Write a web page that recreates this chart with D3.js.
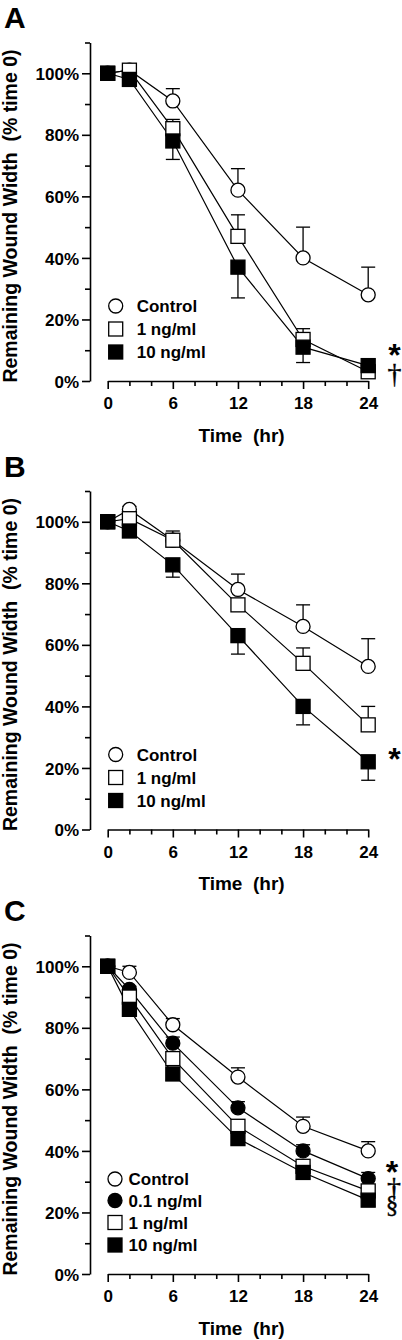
<!DOCTYPE html>
<html>
<head>
<meta charset="utf-8">
<script src="https://cdn.jsdelivr.net/npm/d3@7"></script>
<style>
  html, body { margin: 0; padding: 0; background: #fff; }
  svg { display: block; }
  text { font-family: "Liberation Sans", Arial, Helvetica, sans-serif; font-weight: bold; fill: #000; }
</style>
</head>
<body>
<svg id="chart" width="402" height="1340"></svg>
<script>
// ---------------- DATA ----------------
const times = [0, 2, 6, 12, 18, 24];
const xMajorTicks = [0, 6, 12, 18, 24];
const xMinorTicks = [2, 4, 8, 10, 14, 16, 20, 22];
const yMajorTicks = [0, 20, 40, 60, 80, 100];
const yMinorTicks = [10, 30, 50, 70, 90, 110];
const panelLabels = ["A", "B", "C"];
const seriesNamesAB = ["Control", "1 ng/ml", "10 ng/ml"];
const seriesNamesC = ["Control", "0.1 ng/ml", "1 ng/ml", "10 ng/ml"];

// Panel A
const aControl = [100, 101, 91, 62, 40, 28];
const aControlErr = [0, 0, 4, 7, 10, 9];
const a1ng = [100, 101, 82, 47, 13.5, 3];
const a1ngErr = [0, 0, 3, 7, 3.5, 1];
const a10ng = [100, 98, 78, 37, 11, 5];
const a10ngErr = [0, 0, 6, 10, 5, 1];

// Panel B
const bControl = [100, 104, 94, 78, 66, 53];
const bControlErr = [0, 1, 3, 5, 7, 9];
const b1ng = [100, 101, 94, 73, 54, 34];
const b1ngErr = [0, 0, 1, 2, 5, 6];
const b10ng = [100, 97, 86, 63, 40, 22];
const b10ngErr = [0, 0, 4, 6, 6, 6];

// Panel C
const cControl = [100, 98, 81, 64, 48, 40];
const cControlErr = [0, 2, 2, 3, 3, 3];
const c01ng = [100, 92.5, 75, 54, 40, 31];
const c01ngErr = [0, 1, 2, 2, 2, 2];
const c1ng = [100, 90, 70, 48, 35, 27];
const c1ngErr = [0, 1, 1, 1, 1, 1];
const c10ng = [100, 86, 65, 44, 33, 24];
const c10ngErr = [0, 1, 2, 2, 2, 2];

const significanceA = ["*", "†"];
const significanceB = ["*"];
const significanceC = ["*", "†", "§"];

// ---------------- PANEL DEFINITIONS ----------------
const panels = [
  {
    label: panelLabels[0], oy: 0,
    series: [
      { name: seriesNamesAB[0], v: aControl, e: aControlErr, dir: 1, shape: "circle", fill: "#fff" },
      { name: seriesNamesAB[1], v: a1ng, e: a1ngErr, dir: 1, shape: "square", fill: "#fff" },
      { name: seriesNamesAB[2], v: a10ng, e: a10ngErr, dir: -1, shape: "square", fill: "#000" }
    ],
    legendX: 115.7, legendTextX: 136.7, legendY: [306, 329, 352],
    sig: significanceA, sigPos: [[394.5, 366, 32, "sans"], [394.5, 383, 28, "serif"]]
  },
  {
    label: panelLabels[1], oy: 448.5,
    series: [
      { name: seriesNamesAB[0], v: bControl, e: bControlErr, dir: 1, shape: "circle", fill: "#fff" },
      { name: seriesNamesAB[1], v: b1ng, e: b1ngErr, dir: 1, shape: "square", fill: "#fff" },
      { name: seriesNamesAB[2], v: b10ng, e: b10ngErr, dir: -1, shape: "square", fill: "#000" }
    ],
    legendX: 115.7, legendTextX: 136.7, legendY: [306, 329, 352],
    sig: significanceB, sigPos: [[394.5, 321, 32, "sans"]]
  },
  {
    label: panelLabels[2], oy: 893,
    series: [
      { name: seriesNamesC[0], v: cControl, e: cControlErr, dir: 1, shape: "circle", fill: "#fff" },
      { name: seriesNamesC[1], v: c01ng, e: c01ngErr, dir: 1, shape: "circle", fill: "#000" },
      { name: seriesNamesC[2], v: c1ng, e: c1ngErr, dir: 1, shape: "square", fill: "#fff" },
      { name: seriesNamesC[3], v: c10ng, e: c10ngErr, dir: -1, shape: "square", fill: "#000" }
    ],
    legendX: 115, legendTextX: 128.5, legendY: [286, 307.5, 329.5, 352],
    sig: significanceC, sigPos: [[392, 290, 32, "sans"], [394, 303.5, 28, "serif"], [392, 319.5, 25, "serif"]]
  }
];

// ---------------- DRAW ----------------
const svg = d3.select("#chart");
const x = d3.scaleLinear().domain([0, 24]).range([107.7, 368.2]);
const axisX = 90;
const R = 7;     // circle radius
const S = 14;    // square side
const CAP = 7;   // error cap half width

function drawMarker(g, shape, fill, cx, cy) {
  if (shape === "circle") {
    g.append("circle").attr("cx", cx).attr("cy", cy).attr("r", R)
      .attr("fill", fill).attr("stroke", "#000").attr("stroke-width", 1.3);
  } else {
    g.append("rect").attr("x", cx - S / 2).attr("y", cy - S / 2)
      .attr("width", S).attr("height", S)
      .attr("fill", fill).attr("stroke", "#000").attr("stroke-width", 1.3);
  }
}

panels.forEach(p => {
  const g = svg.append("g").attr("transform", `translate(0,${p.oy})`);
  const y = d3.scaleLinear().domain([0, 110]).range([381, 42.5]);

  // panel letter
  g.append("text").attr("x", 4).attr("y", 28).style("font-size", "30px").text(p.label);

  // Y axis major
  const yAx = g.append("g").attr("transform", `translate(${axisX},0)`)
    .call(d3.axisLeft(y).tickValues(yMajorTicks).tickSize(8).tickSizeOuter(0)
      .tickFormat(d => d + "%").tickPadding(3));
  yAx.select(".domain").attr("stroke-width", 1.6);
  yAx.selectAll(".tick line").attr("stroke-width", 1.6);
  yAx.selectAll(".tick text").style("font-size", "17px").style("font-family", "Liberation Sans, Arial, sans-serif").style("font-weight", "bold").attr("dy", "0.36em");
  // Y axis minor
  const yMin = g.append("g").attr("transform", `translate(${axisX},0)`)
    .call(d3.axisLeft(y).tickValues(yMinorTicks).tickSize(5).tickSizeOuter(0).tickFormat(""));
  yMin.select(".domain").remove();
  yMin.selectAll(".tick line").attr("stroke-width", 1.6);

  // X axis major
  const xAx = g.append("g").attr("transform", `translate(0,${y(0)})`)
    .call(d3.axisBottom(x).tickValues(xMajorTicks).tickSize(8).tickSizeOuter(0).tickPadding(8));
  xAx.select(".domain").attr("stroke-width", 1.6);
  xAx.selectAll(".tick line").attr("stroke-width", 1.6);
  xAx.selectAll(".tick text").style("font-size", "17px").style("font-family", "Liberation Sans, Arial, sans-serif").style("font-weight", "bold");
  const xMin = g.append("g").attr("transform", `translate(0,${y(0)})`)
    .call(d3.axisBottom(x).tickValues(xMinorTicks).tickSize(5).tickSizeOuter(0).tickFormat(""));
  xMin.select(".domain").remove();
  xMin.selectAll(".tick line").attr("stroke-width", 1.6);

  // axis titles
  g.append("text").attr("x", 241.5).attr("y", 441.5).attr("text-anchor", "middle")
    .style("font-size", "19px").attr("xml:space", "preserve").text("Time  (hr)");
  g.append("text").attr("transform", `translate(17,216) rotate(-90)`).attr("text-anchor", "middle")
    .style("font-size", "19.5px").attr("xml:space", "preserve").text("Remaining Wound Width  (% time 0)");

  // lines
  const line = d3.line().x((d, i) => x(times[i])).y(d => y(d));
  p.series.forEach(s => {
    g.append("path").attr("d", line(s.v)).attr("fill", "none")
      .attr("stroke", "#000").attr("stroke-width", 1.2);
  });
  // error bars + markers, in series order
  p.series.forEach(s => {
    const sg = g.append("g");
    s.v.forEach((v, i) => {
      const e = s.e[i];
      if (e > 0) {
        const yEnd = y(v + s.dir * e);
        sg.append("line").attr("x1", x(times[i])).attr("x2", x(times[i]))
          .attr("y1", y(v)).attr("y2", yEnd).attr("stroke", "#000").attr("stroke-width", 1.3);
        sg.append("line").attr("x1", x(times[i]) - CAP).attr("x2", x(times[i]) + CAP)
          .attr("y1", yEnd).attr("y2", yEnd).attr("stroke", "#000").attr("stroke-width", 1.3);
      }
    });
    s.v.forEach((v, i) => drawMarker(sg, s.shape, s.fill, x(times[i]), y(v)));
  });

  // legend
  p.series.forEach((s, i) => {
    const ly = p.legendY[i];
    drawMarker(g, s.shape, s.fill, p.legendX, ly);
    g.append("text").attr("x", p.legendTextX).attr("y", ly).attr("dy", "0.36em")
      .style("font-size", "17px").text(s.name);
  });

  // significance marks
  p.sig.forEach((m, i) => {
    const [sx, sy, fs, fam] = p.sigPos[i];
    const t = g.append("text").attr("x", sx).attr("y", sy).attr("text-anchor", "middle")
      .style("font-size", fs + "px")
      .style("font-family", fam === "serif" ? "Liberation Serif, Times New Roman, serif" : "Liberation Sans, Arial, sans-serif")
      .style("font-weight", fam === "serif" ? "normal" : "bold")
      .text(m);
    if (fam === "serif") t.attr("stroke", "#000").attr("stroke-width", 0.4);
  });
});
</script>
</body>
</html>
